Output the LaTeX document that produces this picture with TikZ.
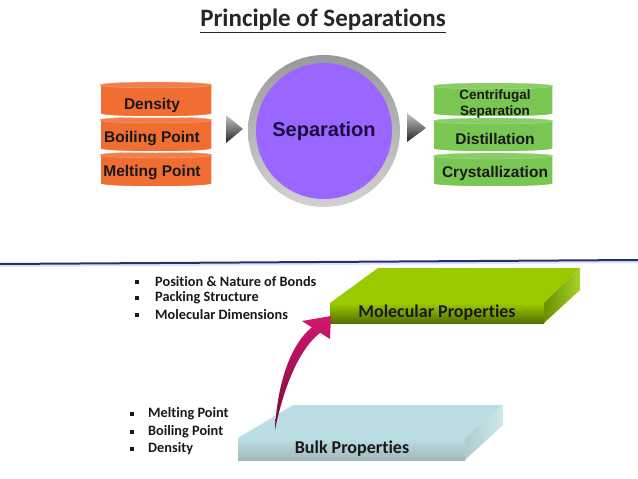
\documentclass[tikz,border=0pt]{standalone}
\usepackage{fontspec}
\setmainfont{Carlito}[Ligatures=NoCommon]
\newfontfamily\arialfont{Liberation Sans}
\usetikzlibrary{calc,arrows}

\definecolor{diskorange}{RGB}{240,110,50}
\definecolor{diskgreen}{RGB}{122,198,82}
\definecolor{seppurple}{RGB}{153,102,255}
\definecolor{sepnavy}{RGB}{25,15,60}
\definecolor{linenavy}{RGB}{38,48,105}
\definecolor{molgreen}{RGB}{153,204,0}
\definecolor{bulkblue}{RGB}{186,222,228}
\definecolor{arrowpink}{RGB}{212,22,112}
\definecolor{arrowdark}{RGB}{120,10,55}

\begin{document}
\begin{tikzpicture}[>=latex,x=1pt,y=-1pt,
    disktext/.style={font=\arialfont\bfseries\fontsize{15.5}{15.5}\selectfont,text=black!90},
    listtext/.style={font=\bfseries\fontsize{14.3}{14.3}\selectfont,anchor=west,inner sep=0pt,text=black!90},
    slabtext/.style={font=\bfseries\fontsize{18}{18}\selectfont,text=black!90}]
            \useasboundingbox (0,0) rectangle (638,479);

            \node[anchor=base,font=\bfseries\fontsize{25}{25}\selectfont,text=black!85] (title) at (323,27) {\underline{Principle of Separations}};

            \foreach \t in {152,117,82} {
                \fill[diskorange,draw=white,line width=1.5] (100,\t+3) -- (100,\t+32) .. controls (100,\t+36) and (212,\t+36) .. (212,\t+32) -- (212,\t+3) .. controls (212,\t-1) and (100,\t-1) .. cycle;
                \draw[fill=diskorange!88!white,draw=diskorange!65!white] (156,\t+3) ellipse[x radius=56,y radius=3];
            }
            \node[disktext] (density) at (152,105) {Density};
            \node[disktext] (boiling) at (152,139) {Boiling Point};
            \node[disktext] (melting) at (152,173) {Melting Point};

            \coordinate (L1) at (226,115);
            \coordinate (L2) at (243,129);
            \coordinate (L3) at (226,143);
            \shade[top color=gray!45,bottom color=black!85] (L1) -- (L2) -- (L3) -- cycle;

            \coordinate (sep) at (324,131);
            \shade[top color=gray!80,middle color=white,bottom color=gray!35] (sep) circle[radius=76];
            \fill[seppurple] (sep) circle[radius=68];
            \node[font=\arialfont\bfseries\fontsize{20}{20}\selectfont,text=sepnavy] (separation) at (sep) {Separation};

            \coordinate (R1) at (407,113);
            \coordinate (R2) at (426,128);
            \coordinate (R3) at (407,142);
            \shade[top color=gray!45,bottom color=black!85] (R1) -- (R2) -- (R3) -- cycle;

            \foreach \t in {153,118,83} {
                \fill[diskgreen,draw=white,line width=1.5] (433,\t+3) -- (433,\t+31) .. controls (433,\t+35) and (553,\t+35) .. (553,\t+31) -- (553,\t+3) .. controls (553,\t-1) and (433,\t-1) .. cycle;
                \draw[fill=diskgreen!88!white,draw=diskgreen!65!white] (493,\t+3) ellipse[x radius=60,y radius=3];
            }
            \node[disktext,font=\arialfont\bfseries\fontsize{13.5}{16.5}\selectfont,align=center] (centrifugal) at (495,104) {Centrifugal\\Separation};
            \node[disktext] (distillation) at (495,139) {Distillation};
            \node[disktext] (crystal) at (495,173) {Crystallization};

            \coordinate (lineL) at (0,264);
            \coordinate (lineR) at (638,260);
            \draw[blue!12,line width=2] ($(lineL)+(0,2)$) -- ($(lineR)+(0,2)$);
            \draw[linenavy,line width=2] (lineL) -- (lineR);

            \coordinate (mbl) at (378,268);
            \coordinate (mbr) at (580,268);
            \coordinate (mfr) at (544,303);
            \coordinate (mfl) at (330,303);
            \fill[molgreen] (mbl) -- (mbr) -- (mfr) -- (mfl) -- cycle;
            \shade[left color=molgreen!70!black,right color=molgreen!85!white] (mfr) -- (mbr) -- (580,290) -- (544,323) -- cycle;
            \shade[top color=molgreen,bottom color=molgreen!55!black] (mfl) -- (mfr) -- (544,323) -- (330,323) -- cycle;
            \node[slabtext] (molecular) at (437,313) {Molecular Properties};

            \coordinate (bbl) at (293,405);
            \coordinate (bbr) at (503,405);
            \coordinate (bfr) at (465,438);
            \coordinate (bfl) at (238,438);
            \fill[bulkblue] (bbl) -- (bbr) -- (bfr) -- (bfl) -- cycle;
            \shade[left color=bulkblue!80!gray,right color=bulkblue!70!white] (bfr) -- (bbr) -- (503,425) -- (465,460) -- cycle;
            \shade[top color=bulkblue,bottom color=bulkblue!60!gray] (bfl) -- (bfr) -- (465,460) -- (238,460) -- cycle;
            \node[slabtext] (bulk) at (352,449) {Bulk Properties};

            \coordinate (tail) at (275,430);
            \coordinate (tip) at (331,316);
            \shade[top color=arrowpink,bottom color=arrowdark] (tail) .. controls (277,385) and (290,345) .. (311.8,327.3) -- (302,321) -- (tip) -- (330,339) -- (320.2,332.7) .. controls (298,350) and (283,390) .. (tail) -- cycle;

            \node[listtext] (bonds) at (155,282) {Position \& Nature of Bonds};
            \node[listtext] (packing) at (155,298) {Packing Structure};
            \node[listtext] (dimensions) at (155,315) {Molecular Dimensions};
            \foreach \y in {282,298,315}
                \fill[black!90] (135,\y-2) rectangle ++(4,4);

            \node[listtext] (mpoint) at (148,414) {Melting Point};
            \node[listtext] (bpoint) at (148,432) {Boiling Point};
            \node[listtext] (dens) at (148,449) {Density};
            \foreach \y in {414,432,449}
                \fill[black!90] (130,\y-2) rectangle ++(4,4);
        \end{tikzpicture}
\end{document}
